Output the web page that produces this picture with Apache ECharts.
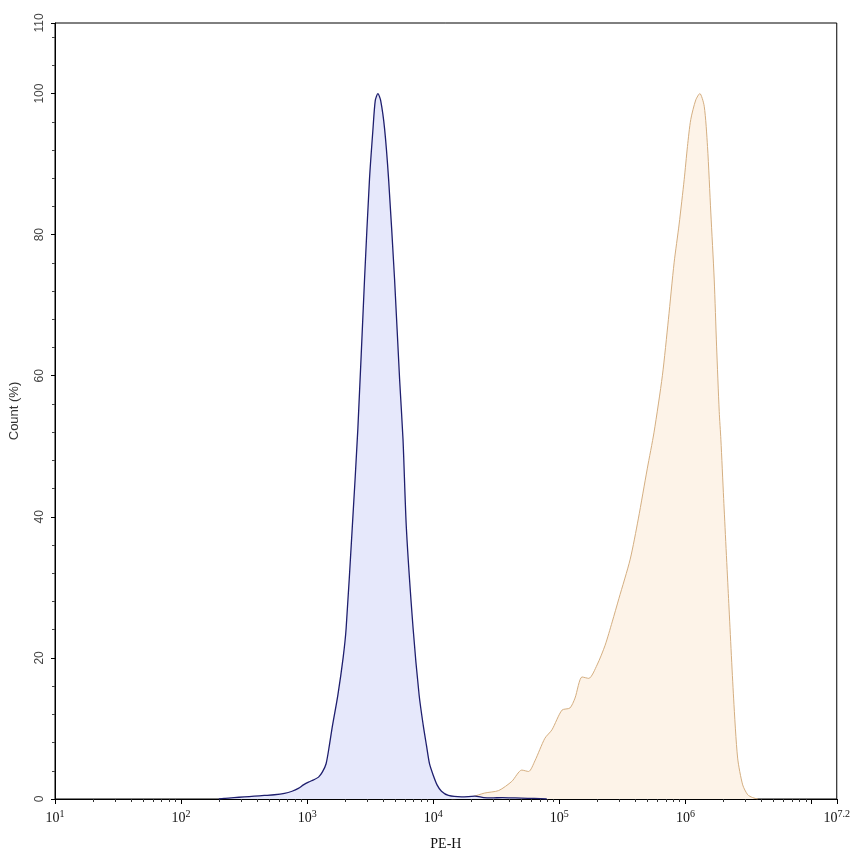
<!DOCTYPE html>
<html>
<head>
<meta charset="utf-8">
<script src="https://cdn.jsdelivr.net/npm/echarts@6/dist/echarts.min.js"></script>
<style>html,body{margin:0;padding:0;background:#fff}#c{width:853px;height:856px}</style>
</head>
<body>
<div id="c"></div>
<script>
// x values are log10(PE-H)
const blueX = [2.30,2.34,2.42,2.50,2.58,2.66,2.74,2.82,2.88,2.93,2.97,3.01,3.05,3.09,3.12,3.15,3.176,3.197,3.243,3.285,3.309,3.357,3.402,3.455,3.494,3.522,3.54,3.561,3.583,3.614,3.646,3.693,3.733,3.76,3.787,3.84,3.888,3.92,3.946,3.97,3.999,4.03,4.065,4.12,4.225,4.33,4.40,4.46,4.55,4.65,4.75,4.85,4.90];
const blueY = [0,0.1,0.2,0.3,0.4,0.5,0.6,0.8,1.1,1.5,2.0,2.4,2.7,3.1,3.8,5.0,7.6,10,14.7,20,24.2,38.3,52.5,73.7,87.8,95,99,100,99,95,87.8,73.7,59.5,51,38.3,24.2,14.7,10.5,7.6,5,3.4,2,1.1,0.5,0.3,0.4,0.2,0.15,0.2,0.15,0.1,0.05,0];
const orangeX = [4.145,4.304,4.408,4.519,4.623,4.702,4.756,4.806,4.885,4.941,5.021,5.084,5.124,5.180,5.233,5.299,5.363,5.419,5.472,5.562,5.626,5.697,5.751,5.817,5.865,5.910,5.950,5.990,6.016,6.042,6.082,6.114,6.149,6.175,6.201,6.228,6.247,6.268,6.281,6.303,6.342,6.382,6.414,6.454,6.494,6.533,6.573];
const orangeY = [0,0.3,0.85,1.2,2.5,4.1,3.9,5.4,8.6,9.8,12.6,12.9,14.3,17.3,17.1,19,21.8,25.1,28.4,34,39.7,46.8,52,60,68,76,81.5,87.8,92.5,96.3,99.1,100,98.2,92.5,83.2,73.7,64.2,54.9,51,42.6,28.4,14.3,5.8,2,0.6,0.2,0];

const xMajorTicks = [1,2,3,4,5,6,7,7.2];
const xLabelTicks = [1,2,3,4,5,6,7.2];
const yMajorTicks = [0,20,40,60,80,100,110];
const yMinorStep = 4;

const xMinorTicks = [];
for (let n = 1; n <= 7; n++) for (let k = 2; k <= 9; k++) { const v = n + Math.log10(k); if (v < 7.2) xMinorTicks.push(v); }
const yMinorTicks = [];
for (let v = yMinorStep; v < 110; v += yMinorStep) if (yMajorTicks.indexOf(v) < 0) yMinorTicks.push(v);

const zip = (a, b) => a.map((v, i) => [v, b[i]]);
const serif = 'Liberation Serif';
const sans = 'Liberation Sans';

const chart = echarts.init(document.getElementById('c'));
chart.setOption({
  animation: false,
  backgroundColor: '#fff',
  grid: { left: 55, right: 15, top: 23, bottom: 55, show: true, borderColor: '#000', borderWidth: 1, backgroundColor: 'transparent' },
  xAxis: [{
    type: 'value', min: 1, max: 7.2, position: 'bottom',
    name: 'PE-H', nameLocation: 'middle', nameGap: 38,
    nameTextStyle: { fontFamily: serif, fontSize: 14, color: '#111' },
    axisLine: { show: true, onZero: false, lineStyle: { color: '#000', width: 1 } },
    axisTick: { show: true, inside: false, length: 5, customValues: xMajorTicks, lineStyle: { color: '#000' } },
    axisLabel: {
      show: true, customValues: xLabelTicks, margin: 10,
      formatter: v => '10{sup|' + (Math.round(v * 10) / 10) + '}',
      fontFamily: serif, fontSize: 14, color: '#111',
      rich: { sup: { fontFamily: serif, fontSize: 10, color: '#111', padding: [0, 0, 8, 0] } }
    },
    splitLine: { show: false }
  }, {
    type: 'value', min: 1, max: 7.2, position: 'bottom',
    axisLine: { show: false },
    axisTick: { show: true, inside: false, length: 3, customValues: xMinorTicks, lineStyle: { color: '#333' } },
    axisLabel: { show: false },
    splitLine: { show: false }
  }],
  yAxis: [{
    type: 'value', min: 0, max: 110, position: 'left',
    name: 'Count (%)', nameLocation: 'middle', nameGap: 34, nameRotate: 90,
    nameTextStyle: { fontFamily: sans, fontSize: 13, color: '#333' },
    axisLine: { show: true, onZero: false, lineStyle: { color: '#000', width: 1 } },
    axisTick: { show: true, length: 4, customValues: yMajorTicks, lineStyle: { color: '#000' } },
    axisLabel: { show: true, customValues: yMajorTicks, rotate: 90, margin: 9, fontFamily: sans, fontSize: 12, color: '#444' },
    splitLine: { show: false }
  }, {
    type: 'value', min: 0, max: 110, position: 'left',
    axisLine: { show: false },
    axisTick: { show: true, length: 3, customValues: yMinorTicks, lineStyle: { color: '#444' } },
    axisLabel: { show: false },
    splitLine: { show: false }
  }],
  series: [{
    type: 'line', name: 'stained', data: zip(orangeX, orangeY),
    smooth: 0.25, showSymbol: false, symbol: 'none',
    lineStyle: { color: '#d4ae80', width: 1 },
    areaStyle: { color: '#fdf3e8', opacity: 1 },
    z: 2
  }, {
    type: 'line', name: 'control', data: zip(blueX, blueY),
    smooth: 0.25, showSymbol: false, symbol: 'none',
    lineStyle: { color: '#1e1e6e', width: 1.3 },
    areaStyle: { color: '#e6e8fb', opacity: 1 },
    z: 3
  }]
});
</script>
</body>
</html>
